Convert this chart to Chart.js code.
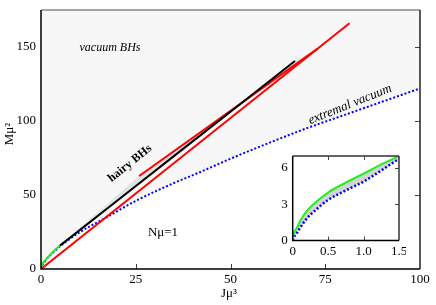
<!DOCTYPE html>
<html>
<head>
<meta charset="utf-8">
<script src="https://cdn.jsdelivr.net/npm/chart.js@4"></script>
<style>
  body { margin: 0; background: #fff; }
  #wrap { position: relative; width: 436px; height: 305px; }
  #mainChart { position: absolute; left: 0; top: 0; }
  #insetChart { position: absolute; left: 276px; top: 150px; }
</style>
</head>
<body>
<div id="wrap">
  <canvas id="mainChart" width="436" height="305"></canvas>
  <canvas id="insetChart" width="130" height="108"></canvas>
</div>
<script>
// extremal vacuum line (blue dotted)
const extremalJ = [0, 0.02, 0.06, 0.1, 0.2, 0.3, 0.5, 0.75, 1, 1.25, 1.5, 3, 5, 10, 17, 25, 35, 42, 50, 60, 70, 80, 90, 100];
const extremalM = [0, 0.3, 0.62, 1.0, 1.83, 2.4, 3.36, 4.15, 4.88, 5.8, 6.75, 10.7, 15.3, 24.5, 34.5, 46, 58, 65.5, 74.5, 85, 95, 104, 113, 122];
// green line
const greenJ = [0, 0.01, 0.03, 0.06, 0.1, 0.2, 0.3, 0.5, 0.75, 1, 1.25, 1.5, 3, 5];
const greenM = [0, 0.45, 0.8, 1.05, 1.55, 2.45, 3.05, 3.97, 4.8, 5.53, 6.3, 7.0, 11.2, 15.8];
// black line
const blackJ = [5, 20, 37.4, 50, 67];
const blackM = [15.8, 46, 81, 106.3, 140.5];
// red lines
const redAJ = [0, 81.4];
const redAM = [0, 166];
const redBJ = [25.9, 73];
const redBM = [62.8, 148.9];
// hairy BHs band outline
const bandJ = [5, 67, 73, 25.9, 5];
const bandM = [15.8, 140.5, 148.9, 62.8, 15.8];

const xTicks = [0, 25, 50, 75, 100];
const yTicks = [0, 50, 100, 150];
const insetXTicks = [0, 0.5, 1, 1.5];
const insetYTicks = [0, 3, 6];

const pts = (J, M) => J.map((x, i) => ({ x: x, y: M[i] }));
const font = { family: '"Liberation Serif", serif', size: 13 };

// inward tick marks + frame
const frame = {
  id: 'frame',
  afterDatasetsDraw(chart, args, o) {
    const { ctx, chartArea: a, scales: { x, y } } = chart;
    ctx.save();
    ctx.lineWidth = 1;
    ctx.strokeStyle = '#444';
    ctx.beginPath();
    (o.bottom || []).forEach(v => { const p = Math.round(x.getPixelForValue(v)) + 0.5; ctx.moveTo(p, a.bottom); ctx.lineTo(p, a.bottom - o.len); });
    (o.top || []).forEach(v => { const p = Math.round(x.getPixelForValue(v)) + 0.5; ctx.moveTo(p, a.top); ctx.lineTo(p, a.top + o.len); });
    (o.right || []).forEach(v => { const p = Math.round(y.getPixelForValue(v)) + 0.5; ctx.moveTo(a.right, p); ctx.lineTo(a.right - o.len, p); });
    ctx.stroke();
    ctx.lineWidth = 1.5;
    ctx.strokeStyle = o.topColor;
    ctx.beginPath(); ctx.moveTo(a.left, a.top); ctx.lineTo(a.right, a.top); ctx.stroke();
    ctx.strokeStyle = o.rightColor;
    ctx.beginPath(); ctx.moveTo(a.right, a.top); ctx.lineTo(a.right, a.bottom); ctx.stroke();
    ctx.strokeStyle = '#000';
    ctx.beginPath(); ctx.moveTo(a.left, a.top); ctx.lineTo(a.left, a.bottom); ctx.lineTo(a.right, a.bottom); ctx.stroke();
    ctx.restore();
  }
};

// labels inside the main plot
const notes = {
  id: 'notes',
  afterDraw(chart) {
    const ctx = chart.ctx;
    const fam = '"Liberation Serif", serif';
    ctx.save();
    ctx.fillStyle = '#000';
    ctx.textAlign = 'center';
    ctx.textBaseline = 'middle';
    ctx.font = 'italic 12px ' + fam;
    ctx.fillText('vacuum BHs', 110, 48);
    ctx.save();
    ctx.translate(350, 104.5);
    ctx.rotate(-22 * Math.PI / 180);
    ctx.font = 'italic 13px ' + fam;
    ctx.fillText('extremal vacuum', 0, 0);
    ctx.restore();
    ctx.save();
    ctx.translate(130, 163.5);
    ctx.rotate(-39 * Math.PI / 180);
    ctx.font = 'bold 12px ' + fam;
    ctx.fillText('hairy BHs', 0, 0);
    ctx.restore();
    ctx.font = '13px ' + fam;
    ctx.fillText('Nμ=1', 163, 233);
    ctx.textBaseline = 'alphabetic';
    ctx.fillText('Jμ³', 229, 297);
    ctx.translate(12.5, 134);
    ctx.rotate(-Math.PI / 2);
    ctx.fillText('Mμ²', 0, 0);
    ctx.restore();
  }
};

new Chart(document.getElementById('mainChart'), {
  type: 'line',
  data: {
    datasets: [
      { label: 'hairy BHs', data: pts(bandJ, bandM), fill: 'shape', backgroundColor: '#e2e2e2',
        borderColor: 'transparent', borderWidth: 0, order: 3 },
      { label: 'black', data: pts(blackJ, blackM), borderColor: '#000', borderWidth: 2, order: 1 },
      { label: 'red A', data: pts(redAJ, redAM), borderColor: '#ff0000', borderWidth: 2, order: 1 },
      { label: 'red B', data: pts(redBJ, redBM), borderColor: '#ff0000', borderWidth: 2, order: 1 },
      { label: 'green', data: pts(greenJ, greenM), borderColor: '#22ee22', borderWidth: 2,
        cubicInterpolationMode: 'monotone', order: 2 },
      { label: 'extremal vacuum', data: pts(extremalJ, extremalM), borderColor: '#0000ff', borderWidth: 2,
        borderDash: [2, 2], cubicInterpolationMode: 'monotone', fill: 'end', backgroundColor: '#f7f7f7', order: 4 }
    ]
  },
  options: {
    responsive: false,
    animation: false,
    devicePixelRatio: 1,
    layout: { padding: { top: 10, right: 16, left: 0, bottom: 0 } },
    elements: { point: { radius: 0 }, line: { tension: 0 } },
    plugins: {
      legend: { display: false },
      tooltip: { enabled: false },
      frame: { len: 5, bottom: [25, 50, 75], right: [50, 100, 150], topColor: '#888', rightColor: '#222' }
    },
    scales: {
      x: {
        type: 'linear', min: 0, max: 100,
        grid: { display: false, drawTicks: false }, border: { display: false },
        ticks: { font: font, color: '#000', padding: 3, maxRotation: 0 },
        afterBuildTicks: s => { s.ticks = xTicks.map(v => ({ value: v })); },
        afterFit: s => { s.height = 36; s.paddingLeft = 0; s.paddingRight = 0; }
      },
      y: {
        type: 'linear', min: 0, max: 175,
        grid: { display: false, drawTicks: false }, border: { display: false },
        ticks: { font: font, color: '#000', padding: 5 },
        afterBuildTicks: s => { s.ticks = yTicks.map(v => ({ value: v })); },
        afterFit: s => { s.width = 41; s.paddingTop = 0; s.paddingBottom = 0; }
      }
    }
  },
  plugins: [frame, notes]
});

new Chart(document.getElementById('insetChart'), {
  type: 'line',
  data: {
    datasets: [
      { label: 'green', data: pts(greenJ, greenM), borderColor: '#22ee22', borderWidth: 2,
        cubicInterpolationMode: 'monotone', order: 0 },
      { label: 'extremal vacuum', data: pts(extremalJ, extremalM), borderColor: '#0000ff', borderWidth: 2.5,
        borderDash: [2, 2], cubicInterpolationMode: 'monotone', fill: 0, backgroundColor: '#d4d4d4', order: 1 }
    ]
  },
  options: {
    responsive: false,
    animation: false,
    devicePixelRatio: 1,
    layout: { padding: { top: 6, right: 7, left: 0, bottom: 0 } },
    elements: { point: { radius: 0 }, line: { tension: 0 } },
    plugins: {
      legend: { display: false },
      tooltip: { enabled: false },
      frame: { len: 4, bottom: [0.5, 1], top: [0.5, 1], right: [3, 6], topColor: '#333', rightColor: '#333' }
    },
    scales: {
      x: {
        type: 'linear', min: 0, max: 1.5,
        grid: { display: false, drawTicks: false }, border: { display: false },
        ticks: { font: font, color: '#000', padding: 3, maxRotation: 0 },
        afterBuildTicks: s => { s.ticks = insetXTicks.map(v => ({ value: v })); },
        afterFit: s => { s.height = 17.5; s.paddingLeft = 0; s.paddingRight = 0; }
      },
      y: {
        type: 'linear', min: 0, max: 7,
        grid: { display: false, drawTicks: false }, border: { display: false },
        ticks: { font: font, color: '#000', padding: 5 },
        afterBuildTicks: s => { s.ticks = insetYTicks.map(v => ({ value: v })); },
        afterFit: s => { s.width = 16.7; s.paddingTop = 0; s.paddingBottom = 0; }
      }
    }
  },
  plugins: [frame]
});
</script>
</body>
</html>
